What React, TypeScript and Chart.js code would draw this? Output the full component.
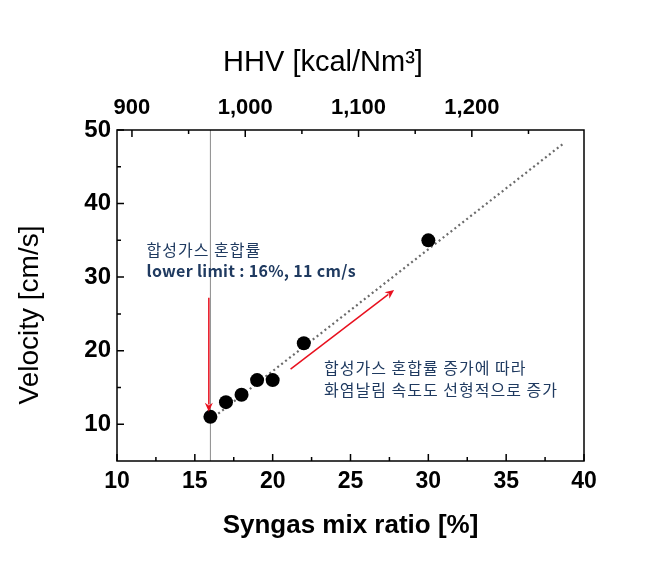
import React, { useEffect, useRef } from "react";
import { Chart, registerables } from "chart.js";
Chart.register(...registerables);

// ---- data ----
const mixRatio = [16, 17, 18, 19, 20, 22, 30];
const velocity = [11, 13, 14, 16, 16, 21, 35];
const fitX = [16, 38.7];
const fitY = [10.6, 48.2];
const limitX = 16;

const xTicks = [10, 15, 20, 25, 30, 35, 40];
const xMinor = [12.5, 17.5, 22.5, 27.5, 32.5, 37.5];
const yTicks = [10, 20, 30, 40, 50];
const yMinor = [15, 25, 35, 45];
const hhvTicks = [900, 1000, 1100, 1200];
const hhvMinor = [950, 1050, 1150, 1250];
const hhvRange = [886.8, 1299];

const xTitle = "Syngas mix ratio [%]";
const yTitle = "Velocity [cm/s]";
const hhvTitle = "HHV [kcal/Nm³]";

const noteLimit = ["합성가스 혼합률", "lower limit : 16%, 11 cm/s"];
const noteTrend = ["합성가스 혼합률 증가에 따라", "화염날림 속도도 선형적으로 증가"];
const noteLimitAt = [11.9, 33.7];
const noteTrendAt = [23.3, 17.6];
const arrowDownFrom = [15.9, 27.2];
const arrowDownTo = [15.9, 11.7];
const arrowUpFrom = [21.15, 17.5];
const arrowUpTo = [27.8, 28.25];

const FONT = "'Liberation Sans', Arial, sans-serif";
const KFONT = "'Noto Sans CJK KR', 'Noto Sans', sans-serif";
const NOTE_COLOR = "#1f3a60";

function drawArrow(ctx: CanvasRenderingContext2D, x1: number, y1: number, x2: number, y2: number) {
  const ang = Math.atan2(y2 - y1, x2 - x1);
  const head = 9;
  const half = 4;
  ctx.strokeStyle = "#e8101e";
  ctx.fillStyle = "#e8101e";
  ctx.lineWidth = 1.5;
  ctx.beginPath();
  ctx.moveTo(x1, y1);
  ctx.lineTo(x2 - Math.cos(ang) * head * 0.8, y2 - Math.sin(ang) * head * 0.8);
  ctx.stroke();
  ctx.beginPath();
  ctx.moveTo(x2, y2);
  ctx.lineTo(x2 - Math.cos(ang) * head + Math.sin(ang) * half, y2 - Math.sin(ang) * head - Math.cos(ang) * half);
  ctx.lineTo(x2 - Math.cos(ang) * head * 0.7, y2 - Math.sin(ang) * head * 0.7);
  ctx.lineTo(x2 - Math.cos(ang) * head - Math.sin(ang) * half, y2 - Math.sin(ang) * head + Math.cos(ang) * half);
  ctx.closePath();
  ctx.fill();
}

const decorPlugin = {
  id: "decor",
  afterDatasetsDraw(chart: any) {
    const { ctx, chartArea: a, scales } = chart;
    const sx = scales.x, sy = scales.y, st = scales.hhv;
    ctx.save();
    // ticks (inward)
    ctx.strokeStyle = "#000";
    ctx.lineWidth = 1.5;
    const major = 7, minor = 4;
    ctx.beginPath();
    xTicks.forEach((v) => { const p = sx.getPixelForValue(v); ctx.moveTo(p, a.bottom); ctx.lineTo(p, a.bottom - major); });
    xMinor.forEach((v) => { const p = sx.getPixelForValue(v); ctx.moveTo(p, a.bottom); ctx.lineTo(p, a.bottom - minor); });
    yTicks.forEach((v) => { const p = sy.getPixelForValue(v); ctx.moveTo(a.left, p); ctx.lineTo(a.left + major, p); });
    yMinor.forEach((v) => { const p = sy.getPixelForValue(v); ctx.moveTo(a.left, p); ctx.lineTo(a.left + minor, p); });
    hhvTicks.forEach((v) => { const p = st.getPixelForValue(v); ctx.moveTo(p, a.top); ctx.lineTo(p, a.top + major); });
    hhvMinor.forEach((v) => { const p = st.getPixelForValue(v); ctx.moveTo(p, a.top); ctx.lineTo(p, a.top + minor); });
    ctx.stroke();
    // frame
    ctx.lineWidth = 1.5;
    ctx.strokeRect(a.left, a.top, a.right - a.left, a.bottom - a.top);

    // axis titles (offset from centre as in the original)
    ctx.fillStyle = "#000";
    ctx.textAlign = "center";
    ctx.textBaseline = "middle";
    ctx.font = `29px ${FONT}`;
    ctx.fillText(hhvTitle, 323, 63);
    ctx.save();
    ctx.translate(30, 315);
    ctx.rotate(-Math.PI / 2);
    ctx.font = `28px ${FONT}`;
    ctx.fillText(yTitle, 0, 0);
    ctx.restore();

    // arrows
    drawArrow(ctx, sx.getPixelForValue(arrowDownFrom[0]), sy.getPixelForValue(arrowDownFrom[1]),
      sx.getPixelForValue(arrowDownTo[0]), sy.getPixelForValue(arrowDownTo[1]));
    drawArrow(ctx, sx.getPixelForValue(arrowUpFrom[0]), sy.getPixelForValue(arrowUpFrom[1]),
      sx.getPixelForValue(arrowUpTo[0]), sy.getPixelForValue(arrowUpTo[1]));

    // notes
    ctx.fillStyle = NOTE_COLOR;
    ctx.textAlign = "left";
    ctx.textBaseline = "middle";
    const lx = sx.getPixelForValue(noteLimitAt[0]);
    const ly = sy.getPixelForValue(noteLimitAt[1]);
    (ctx as any).letterSpacing = "1px";
    ctx.font = `16px ${KFONT}`;
    ctx.fillText(noteLimit[0], lx, ly);
    (ctx as any).letterSpacing = "0.3px";
    ctx.font = `bold 16px ${KFONT}`;
    ctx.fillText(noteLimit[1], lx, ly + 21);
    const tx = sx.getPixelForValue(noteTrendAt[0]);
    const ty = sy.getPixelForValue(noteTrendAt[1]);
    (ctx as any).letterSpacing = "1px";
    ctx.font = `16px ${KFONT}`;
    ctx.fillText(noteTrend[0], tx, ty);
    ctx.fillText(noteTrend[1], tx, ty + 22);
    (ctx as any).letterSpacing = "0px";
    ctx.restore();
  },
};

export default function App() {
  const ref = useRef<HTMLCanvasElement | null>(null);
  useEffect(() => {
    if (!ref.current) return;
    const chart = new Chart(ref.current, {
      type: "scatter",
      data: {
        datasets: [
          {
            label: "Velocity",
            data: mixRatio.map((x, i) => ({ x, y: velocity[i] })),
            backgroundColor: "#000",
            borderColor: "#000",
            pointRadius: 7,
            pointBorderWidth: 0,
            xAxisID: "x",
            yAxisID: "y",
          },
          {
            label: "fit",
            data: fitX.map((x, i) => ({ x, y: fitY[i] })),
            showLine: true,
            borderColor: "#6b6b6b",
            borderWidth: 2.2,
            borderDash: [2, 3],
            pointRadius: 0,
            xAxisID: "x",
            yAxisID: "y",
          },
          {
            label: "limit",
            data: [{ x: limitX, y: 5 }, { x: limitX, y: 50 }],
            showLine: true,
            borderColor: "#8a8a8a",
            borderWidth: 1,
            pointRadius: 0,
            xAxisID: "x",
            yAxisID: "y",
          },
        ],
      },
      options: {
        responsive: false,
        animation: false,
        layout: { padding: { left: 0, top: 0, right: 69, bottom: 0 } },
        plugins: { legend: { display: false }, tooltip: { enabled: false } },
        scales: {
          x: {
            type: "linear",
            position: "bottom",
            min: 10,
            max: 40,
            afterBuildTicks: (s: any) => { s.ticks = xTicks.map((v) => ({ value: v })); },
            afterFit: (s: any) => { s.height = 117; },
            grid: { display: false, drawTicks: false },
            border: { display: false },
            ticks: { color: "#000", padding: 7, font: { family: FONT, size: 23, weight: "bold" } },
            title: {
              display: true,
              text: xTitle,
              color: "#000",
              font: { family: FONT, size: 26, weight: "bold" },
              padding: { top: 0, bottom: 37 },
            },
          },
          hhv: {
            type: "linear",
            position: "top",
            min: hhvRange[0],
            max: hhvRange[1],
            afterBuildTicks: (s: any) => { s.ticks = hhvTicks.map((v) => ({ value: v })); },
            afterFit: (s: any) => { s.height = 130; },
            grid: { display: false, drawTicks: false },
            border: { display: false },
            ticks: {
              color: "#000",
              padding: 9,
              font: { family: FONT, size: 22, weight: "bold" },
              callback: (v: any) => Number(v).toLocaleString("en-US"),
            },
            title: { display: false },
          },
          y: {
            type: "linear",
            position: "left",
            min: 5,
            max: 50,
            afterBuildTicks: (s: any) => { s.ticks = yTicks.map((v) => ({ value: v })); },
            afterFit: (s: any) => { s.width = 117; },
            grid: { display: false, drawTicks: false },
            border: { display: false },
            ticks: { color: "#000", padding: 6, font: { family: FONT, size: 24, weight: "bold" } },
            title: { display: false },
          },
        },
      },
      plugins: [decorPlugin],
    } as any);
    return () => chart.destroy();
  }, []);
  return (
    <div style={{ position: "fixed", left: 0, top: 0, width: 653, height: 578, background: "#fff" }}>
      <canvas ref={ref} width={653} height={578} />
    </div>
  );
}
